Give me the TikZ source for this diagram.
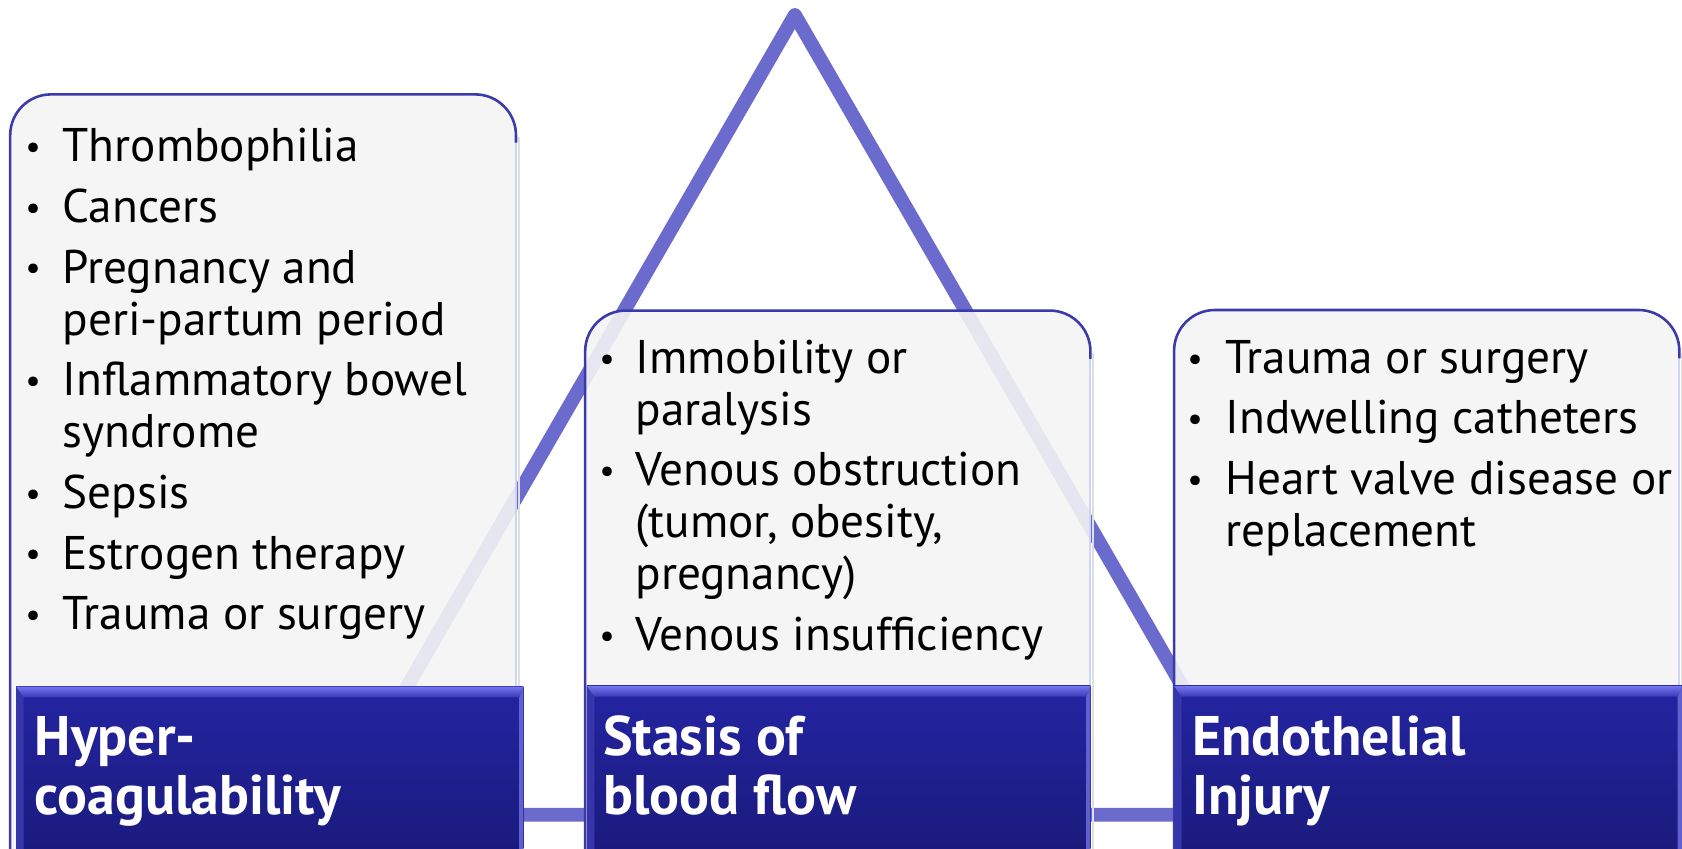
\documentclass[tikz,border=0pt]{standalone}
\usepackage{fontspec}
\setmainfont{PT Sans}
\definecolor{tri}{RGB}{107,107,205}
\definecolor{panelfill}{RGB}{244,244,244}
\definecolor{panelborder}{RGB}{58,58,170}
\definecolor{panelright}{RGB}{205,212,245}
\definecolor{hdtop}{RGB}{36,36,162}
\definecolor{hdbot}{RGB}{26,26,124}
\definecolor{bevtopA}{RGB}{116,116,236}
\definecolor{bevtopB}{RGB}{58,58,184}
\definecolor{bevleft}{RGB}{54,54,170}
\definecolor{bevright}{RGB}{96,96,206}
\tikzset{
  body/.style={inner sep=0pt, font=\fontsize{22}{24}\selectfont, text=black},
  hdtext/.style={inner sep=0pt, font=\fontsize{26}{28}\selectfont\bfseries, text=white},
  bul/.style={inner sep=0pt, font=\fontsize{16}{18}\selectfont, text=black, anchor=base},
}
\newcommand\mypanel[3]{%
  \fill[panelfill, fill opacity=0.9, rounded corners=19pt] (#1,900) rectangle (#2,#3);
  \draw[gray!25, line width=1pt] (#2+2.5,#3+40) -- (#2+2.5,900);
  \draw[panelright, line width=1pt] (#2,#3+30) -- (#2,900);
  \draw[panelborder, line width=1.2pt, rounded corners=19pt] (#1,900) -- (#1,#3) -- (#2,#3) -- (#2,#3+45);
}
\newcommand\myheader[3]{%
  \shade[top color=hdtop, bottom color=hdbot] (#1,#3) rectangle (#2,800);
  \fill[bevleft] (#1,#3) -- (#1+7,#3+10) -- (#1+7,800) -- (#1,800) -- cycle;
  \fill[bevright] (#2,#3) -- (#2-4,#3+10) -- (#2-4,800) -- (#2,800) -- cycle;
  \shade[top color=bevtopA, bottom color=bevtopB] (#1,#3) -- (#2,#3) -- (#2-4,#3+10) -- (#1+7,#3+10) -- cycle;
}
\begin{document}
\begin{tikzpicture}[x=0.5pt,y=-0.5pt]
\useasboundingbox (0,0) rectangle (1568,791);
\clip (0,0) rectangle (1568,791);
\fill[white] (0,0) rectangle (1568,791);

% triangle
\coordinate (apex) at (741,14);
\coordinate (bl) at (310.6,759.5);
\coordinate (br) at (1171.4,759.5);
\draw[tri, line width=6.5pt, line join=round] (apex) -- (br) -- (bl) -- cycle;

% panels
\mypanel{9.5}{481}{88}
\mypanel{545.5}{1016.5}{289.5}
\mypanel{1094.5}{1565.5}{289}

% headers
\myheader{15}{488}{640}
\myheader{547}{1016.5}{639.5}
\myheader{1094.5}{1568}{639.5}

% header texts
\node[hdtext, anchor=base west] (h1a) at (32,704) {Hyper-};
\node[hdtext, anchor=base west] (h1b) at (32,759) {coagulability};
\node[hdtext, anchor=base west] (h2a) at (562,704) {Stasis of};
\node[hdtext, anchor=base west] (h2b) at (562,759) {blood flow};
\node[hdtext, anchor=base west] (h3a) at (1111,704) {Endothelial};
\node[hdtext, anchor=base west] (h3b) at (1111,759) {Injury};

% left list
\node[bul] (b11) at (31,148) {•};
\node[body, anchor=base west] (t11) at (58,151) {Thrombophilia};
\node[bul] (b12) at (31,204.5) {•};
\node[body, anchor=base west] (t12) at (58,207.5) {Cancers};
\node[bul] (b13) at (31,261) {•};
\node[body, anchor=base west] (t13) at (58,264) {Pregnancy and};
\node[body, anchor=base west] (t14) at (58,312.5) {peri-partum period};
\node[bul] (b15) at (31,366) {•};
\node[body, anchor=base west] (t15) at (58,369) {Inflammatory bowel};
\node[body, anchor=base west] (t16) at (58,417.5) {syndrome};
\node[bul] (b17) at (31,471) {•};
\node[body, anchor=base west] (t17) at (58,474) {Sepsis};
\node[bul] (b18) at (31,527.5) {•};
\node[body, anchor=base west] (t18) at (58,530.5) {Estrogen therapy};
\node[bul] (b19) at (31,584) {•};
\node[body, anchor=base west] (t19) at (58,587) {Trauma or surgery};

% middle list
\node[bul] (b21) at (566,345) {•};
\node[body, anchor=base west] (t21) at (592,348) {Immobility or};
\node[body, anchor=base west] (t22) at (592,396.5) {paralysis};
\node[bul] (b23) at (566,450) {•};
\node[body, anchor=base west] (t23) at (592,453) {Venous obstruction};
\node[body, anchor=base west] (t24) at (592,501.5) {(tumor, obesity,};
\node[body, anchor=base west] (t25) at (592,550) {pregnancy)};
\node[bul] (b26) at (566,603.5) {•};
\node[body, anchor=base west] (t26) at (592,606.5) {Venous insufficiency};

% right list
\node[bul] (b31) at (1114,345) {•};
\node[body, anchor=base west] (t31) at (1142,348) {Trauma or surgery};
\node[bul] (b32) at (1114,401.5) {•};
\node[body, anchor=base west] (t32) at (1142,404.5) {Indwelling catheters};
\node[bul] (b33) at (1114,458) {•};
\node[body, anchor=base west] (t33) at (1142,461) {Heart valve disease or};
\node[body, anchor=base west] (t34) at (1142,509.5) {replacement};
\end{tikzpicture}
\end{document}
